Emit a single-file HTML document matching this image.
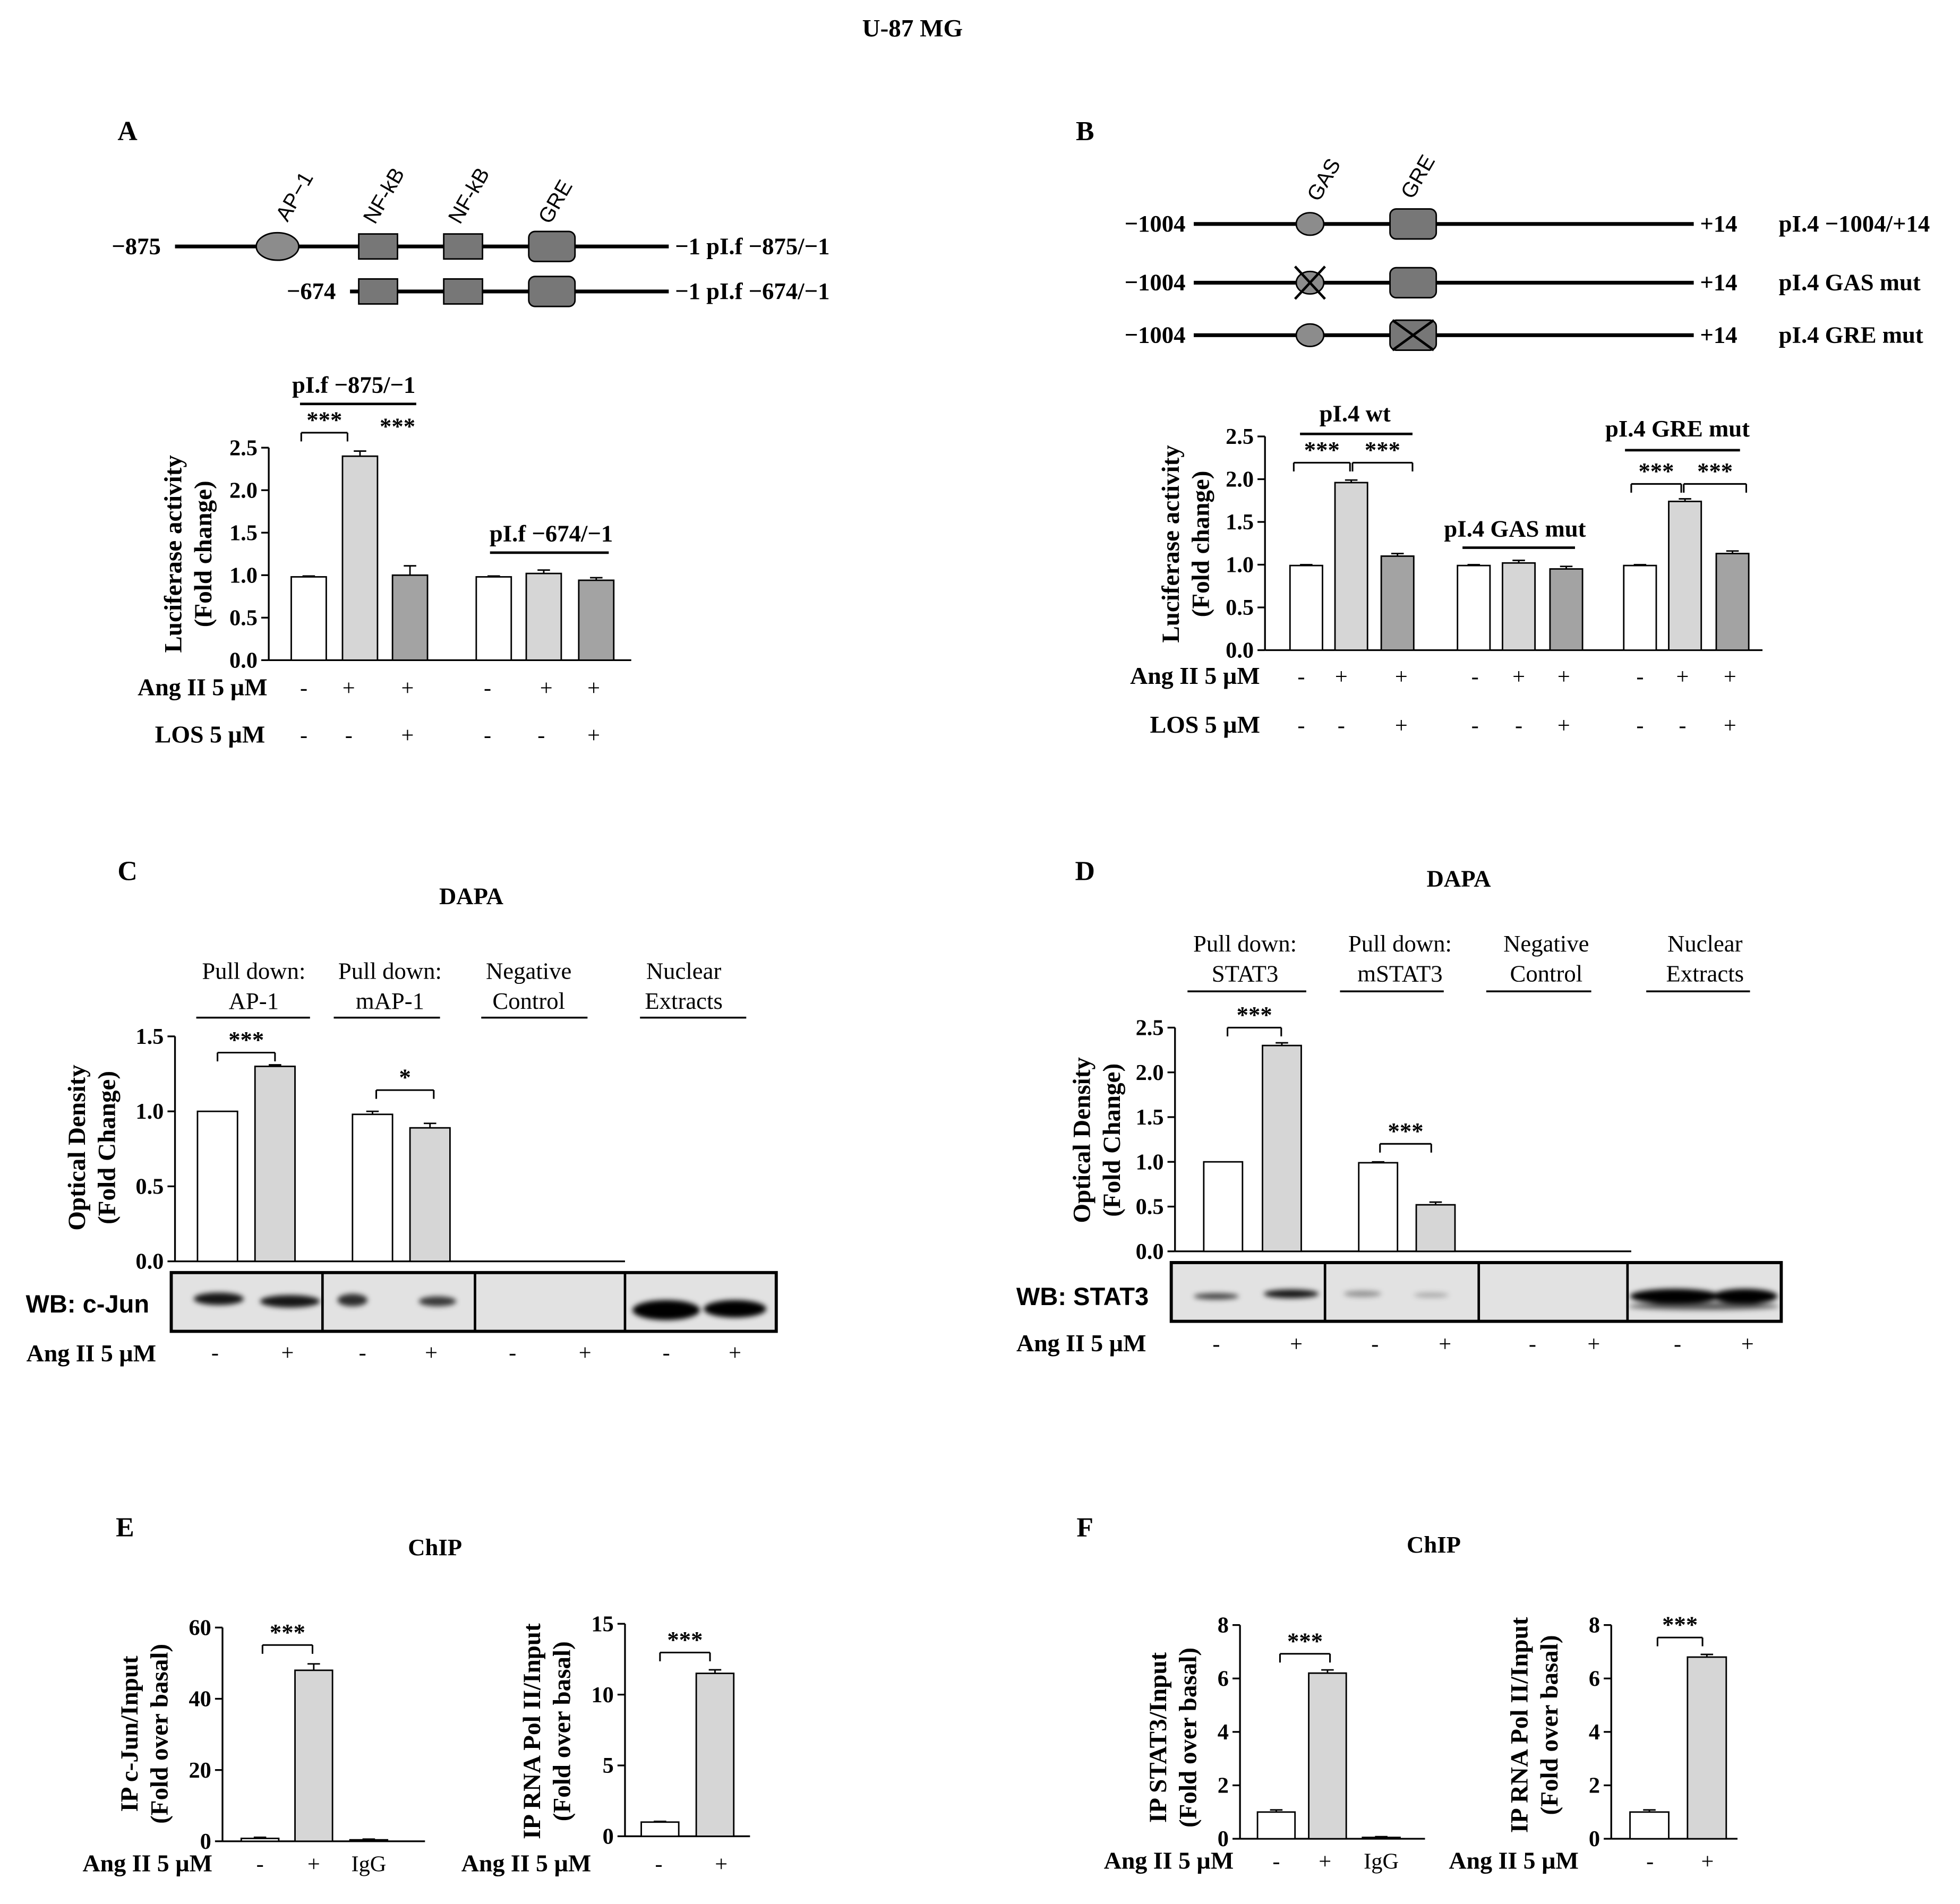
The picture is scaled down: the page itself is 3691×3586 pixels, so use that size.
<!DOCTYPE html>
<html><head><meta charset="utf-8"><style>
html,body{margin:0;padding:0;background:#fff}
svg{display:block}
text{font-family:"Liberation Serif",serif;fill:#000}
.b{font-weight:bold}
</style></head><body>
<svg id="fig" width="3691" height="3586" viewBox="0 0 1568 1523" xmlns="http://www.w3.org/2000/svg">
<defs><filter id="blur" x="-50%" y="-100%" width="200%" height="300%"><feGaussianBlur stdDeviation="2"/></filter></defs>
<text x="730" y="29" font-size="20" class="b" text-anchor="middle">U-87 MG</text>
<g id="diagrams"></g>
<g id="charts"></g>
</svg>
<script>
// ---- data ----
const aValues=[0.98,2.4,1.0,0.98,1.02,0.94];
const aErrors=[0.01,0.06,0.11,0.01,0.04,0.03];
const aTicks=["0.0","0.5","1.0","1.5","2.0","2.5"];
const bValues=[0.99,1.96,1.1,0.99,1.02,0.95,0.99,1.74,1.13];
const bErrors=[0.01,0.03,0.03,0.01,0.03,0.03,0.01,0.03,0.03];
const bTicks=["0.0","0.5","1.0","1.5","2.0","2.5"];
const cValues=[1.0,1.3,0.98,0.89];
const cErrors=[0,0.01,0.02,0.03];
const cTicks=["0.0","0.5","1.0","1.5"];
const dValues=[1.0,2.3,0.99,0.52];
const dErrors=[0,0.03,0.01,0.03];
const dTicks=["0.0","0.5","1.0","1.5","2.0","2.5"];
const e1Values=[0.8,48,0.4];
const e1Errors=[0.3,1.8,0.2];
const e1Ticks=["0","20","40","60"];
const e2Values=[1.0,11.5];
const e2Errors=[0.05,0.25];
const e2Ticks=["0","5","10","15"];
const f1Values=[1.0,6.2,0.05];
const f1Errors=[0.08,0.12,0.03];
const f1Ticks=["0","2","4","6","8"];
const f2Values=[1.0,6.8];
const f2Errors=[0.08,0.1];
const f2Ticks=["0","2","4","6","8"];

const NS="http://www.w3.org/2000/svg";
const charts=document.getElementById('charts');
const diag=document.getElementById('diagrams');
const RS=19.5;
function mk(tag,attrs,parent,txt){const e=document.createElementNS(NS,tag);for(const k in attrs)e.setAttribute(k,attrs[k]);if(txt!==undefined)e.textContent=txt;(parent||charts).appendChild(e);return e;}
function T(x,y,s,size,opts){opts=opts||{};const e=mk('text',{x:x,y:y,'font-size':size||18,'text-anchor':opts.a||'middle'},opts.p||charts,s);if(opts.b!==false)e.setAttribute('class','b');if(opts.sans)e.setAttribute('style','font-family:"Liberation Sans",sans-serif');if(opts.rot!==undefined)e.setAttribute('transform','rotate('+opts.rot+' '+x+' '+y+')');


return e;}
function L(x1,y1,x2,y2,w,p){const e=mk('line',{x1:x1,y1:y1,x2:x2,y2:y2,stroke:'#000','stroke-width':w||1.3},p||charts);


return e;}

function chart(cfg){
  const g=mk('g',{});
  
  
  const y0=cfg.y0, ppu=(cfg.y0-cfg.yTop)/cfg.max;
  const sy=v=>y0-v*ppu;
  L(cfg.ax,sy(cfg.max),cfg.ax,y0,1.4,g);
  L(cfg.ax,y0,cfg.xEnd,y0,1.4,g);
  cfg.ticks.forEach((t,i)=>{const v=cfg.max*i/(cfg.ticks.length-1);const y=sy(v);L(cfg.ax-6,y,cfg.ax,y,1.4,g);T(cfg.ax-9,y+6,t,18,{a:'end',p:g,n:'y-tick-label'});});
  cfg.values.forEach((v,i)=>{const x=cfg.bx[i];const r=mk('rect',{x:x,y:sy(v),width:cfg.bw,height:v*ppu,fill:cfg.colors[i],stroke:'#000','stroke-width':1.2},g);
    
    
    const e=cfg.errors[i];if(e>0){const cx=x+cfg.bw/2;L(cx,sy(v),cx,sy(v+e),1.2,g);L(cx-5,sy(v+e),cx+5,sy(v+e),1.2,g);}
  });
  if(cfg.ylab){T(cfg.ylx,cfg.yly,cfg.ylab[0],20,{rot:-90,p:g,n:'y-axis-title'});T(cfg.ylx+24,cfg.yly,cfg.ylab[1],20,{rot:-90,p:g,n:'y-axis-subtitle'});}
  return g;
}
function bracket(x1,x2,y,txt){L(x1,y,x2,y);L(x1,y,x1,y+7);L(x2,y,x2,y+7);T((x1+x2)/2,y-4,txt,19,{n:'significance-label'});}

const W='#ffffff',G='#d6d6d6',D='#a3a3a3';
// ---- Panel A ----
T(102,112,'A',22,{n:'panel-a-label'});
chart({name:'chart-a',ax:215,y0:528,yTop:358,max:2.5,xEnd:505,ticks:aTicks,values:aValues,errors:aErrors,bw:28,bx:[233,274,314,381,421,463],colors:[W,G,D,W,G,D],ylab:['Luciferase activity','(Fold change)'],ylx:145,yly:443});
T(283,314,'pI.f  −875/−1',19,{n:'group-label'});L(240,323,333,323,2);
bracket(241,278,346,'***');T(318,347,'***',19,{n:'significance-label'});
T(441,433,'pI.f −674/−1',19,{n:'group-label'});L(392,442,487,442,2);
T(162,556,'Ang II 5 µM',RS,{n:'ang-ii-row-label'});T(168,594,'LOS 5 µM',RS,{n:'los-row-label'});
['-','+','+','-','+','+'].forEach((s,i)=>T([243,279,326,390,437,475][i],556,s,18,{b:false,n:'ang-ii-sign'}));
['-','-','+','-','-','+'].forEach((s,i)=>T([243,279,326,390,433,475][i],594,s,18,{b:false,n:'los-sign'}));

// diagram A
L(140,197,535,197,3,diag);L(280,233,535,233,3,diag);
T(109,203,'−875',19,{p:diag,n:'position-label'});T(249,239,'−674',19,{p:diag,n:'position-label'});
mk('ellipse',{cx:222,cy:197,rx:17,ry:11,fill:'#8c8c8c',stroke:'#000','stroke-width':1.2},diag);
[[287,197],[355,197],[287,233],[355,233]].forEach(p=>mk('rect',{x:p[0],y:p[1]-10,width:31,height:20,fill:'#777',stroke:'#000','stroke-width':1.2},diag));
[197,233].forEach(y=>mk('rect',{x:423,y:y-12,width:37,height:24,rx:5,fill:'#777',stroke:'#000','stroke-width':1.2},diag));
T(230,178,'AP−1',17,{p:diag,a:'start',b:false,sans:true,rot:-60,n:'site-label'});
T(300,180,'NF-kB',17,{p:diag,a:'start',b:false,sans:true,rot:-60,n:'site-label'});
T(368,180,'NF-kB',17,{p:diag,a:'start',b:false,sans:true,rot:-60,n:'site-label'});
T(440,180,'GRE',17,{p:diag,a:'start',b:false,sans:true,rot:-60,n:'site-label'});
T(540,203,'−1  pI.f  −875/−1',19,{p:diag,a:'start',n:'construct-label'});
T(540,239,'−1  pI.f  −674/−1',19,{p:diag,a:'start',n:'construct-label'});

// ---- Panel B ----
T(868,112,'B',22,{n:'panel-b-label'});
chart({name:'chart-b',ax:1012,y0:520,yTop:349,max:2.5,xEnd:1410,ticks:bTicks,values:bValues,errors:bErrors,bw:26,bx:[1032,1068,1105,1166,1202,1240,1299,1335,1373],colors:[W,G,D,W,G,D,W,G,D],ylab:['Luciferase activity','(Fold change)'],ylx:943,yly:435});
T(1084,337,'pI.4 wt',19,{n:'group-label'});L(1040,347,1130,347,2);
T(1212,429,'pI.4 GAS mut',19,{n:'group-label'});L(1170,438,1260,438,2);
T(1342,349,'pI.4 GRE mut',19,{n:'group-label'});L(1300,360,1392,360,2);
bracket(1035,1080,370,'***');bracket(1082,1130,370,'***');
bracket(1305,1345,387,'***');bracket(1347,1397,387,'***');
T(956,547,'Ang II 5 µM',RS,{n:'ang-ii-row-label'});T(964,586,'LOS 5 µM',RS,{n:'los-row-label'});
const bx=[1041,1073,1121,1180,1215,1251,1312,1346,1384];
['-','+','+','-','+','+','-','+','+'].forEach((s,i)=>T(bx[i],547,s,18,{b:false,n:'ang-ii-sign'}));
['-','-','+','-','-','+','-','-','+'].forEach((s,i)=>T(bx[i],586,s,18,{b:false,n:'los-sign'}));
[179,226,268].forEach((y,r)=>{L(955,y,1355,y,3,diag);T(924,y+6,'−1004',19,{p:diag,n:'position-label'});T(1360,y+6,'+14',19,{p:diag,a:'start',n:'position-label'});
 mk('ellipse',{cx:1048,cy:y,rx:11,ry:9,fill:'#8c8c8c',stroke:'#000','stroke-width':1.2},diag);
 mk('rect',{x:1112,y:y-12,width:37,height:24,rx:5,fill:'#777',stroke:'#000','stroke-width':1.2},diag);
 if(r==1){L(1036,y-13,1060,y+13,2,diag);L(1060,y-13,1036,y+13,2,diag);}
 if(r==2){L(1114,y-12,1147,y+12,2,diag);L(1147,y-12,1114,y+12,2,diag);}
});
T(1055,162,'GAS',17,{p:diag,a:'start',b:false,sans:true,rot:-60,n:'site-label'});
T(1130,160,'GRE',17,{p:diag,a:'start',b:false,sans:true,rot:-60,n:'site-label'});
T(1423,185,'pI.4 −1004/+14',19,{p:diag,a:'start',n:'construct-label'});
T(1423,232,'pI.4 GAS mut',19,{p:diag,a:'start',n:'construct-label'});
T(1423,274,'pI.4 GRE mut',19,{p:diag,a:'start',n:'construct-label'});

// ---- Panel C ----
T(102,704,'C',22,{n:'panel-c-label'});T(377,723,'DAPA',19,{n:'panel-title'});
[[203,'Pull down:','AP-1',157,248],[312,'Pull down:','mAP-1',267,352],[423,'Negative','Control',385,470],[547,'Nuclear','Extracts',512,597]].forEach(h=>{T(h[0],783,h[1],19,{b:false,n:'lane-header'});T(h[0],807,h[2],19,{b:false,n:'lane-header'});L(h[3],814,h[4],814,1.5);});
chart({name:'chart-c',ax:140,y0:1009,yTop:829,max:1.5,xEnd:500,ticks:cTicks,values:cValues,errors:cErrors,bw:32,bx:[158,204,282,328],colors:[W,G,W,G],ylab:['Optical Density','(Fold Change)'],ylx:68,yly:918});
bracket(174,220,842,'***');bracket(301,347,872,'*');
function blot(x1,x2,y1,y2,divs,bands,name){
  const g=mk('g',{});
  
  
  mk('rect',{x:x1,y:y1,width:x2-x1,height:y2-y1,fill:'#e2e2e2'},g);
  const bg=mk('g',{filter:'url(#blur)'},g);
  bands.forEach(b=>{const e=mk('ellipse',{cx:b[0],cy:b[1],rx:b[2],ry:b[3],fill:'#000','fill-opacity':b[4]},bg);});
  mk('rect',{x:x1,y:y1,width:x2-x1,height:y2-y1,fill:'none',stroke:'#000','stroke-width':2.5},g);
  divs.forEach(d=>L(d,y1,d,y2,2,g));
}
blot(137,621,1018,1065,[258,380,500],[[175,1039,20,5,0.9],[232,1041,24,5,0.9],[282,1040,12,5,0.8],[350,1041,15,4,0.75],[533,1048,27,8,1],[588,1047,25,7,1]],'western-blot-c-jun');
T(70,1050,'WB: c-Jun',20,{sans:true,n:'blot-label'});
T(73,1089,'Ang II 5 µM',RS,{n:'ang-ii-row-label'});
['-','+','-','+','-','+','-','+'].forEach((s,i)=>T([172,230,290,345,410,468,533,588][i],1088,s,18,{b:false,n:'ang-ii-sign'}));

// ---- Panel D ----
T(868,704,'D',22,{n:'panel-d-label'});T(1167,709,'DAPA',19,{n:'panel-title'});
[[996,'Pull down:','STAT3',950,1045],[1120,'Pull down:','mSTAT3',1072,1155],[1237,'Negative','Control',1189,1273],[1364,'Nuclear','Extracts',1317,1400]].forEach(h=>{T(h[0],761,h[1],19,{b:false,n:'lane-header'});T(h[0],785,h[2],19,{b:false,n:'lane-header'});L(h[3],793,h[4],793,1.5);});
chart({name:'chart-d',ax:940,y0:1001,yTop:822,max:2.5,xEnd:1305,ticks:dTicks,values:dValues,errors:dErrors,bw:31,bx:[963,1010,1087,1133],colors:[W,G,W,G],ylab:['Optical Density','(Fold Change)'],ylx:872,yly:912});
bracket(982,1025,822,'***');bracket(1104,1145,915,'***');
blot(937,1425,1010,1057,[1060,1183,1302],[[973,1037,18,2.5,0.7],[1033,1035,22,3.5,0.9],[1090,1035,15,2.5,0.35],[1145,1036,14,2,0.25],[1340,1037,36,6,1],[1396,1037,26,6,1],[1363,1045,60,3,0.6]],'western-blot-stat3');
T(866,1044,'WB: STAT3',20,{sans:true,n:'blot-label'});
T(865,1081,'Ang II 5 µM',RS,{n:'ang-ii-row-label'});
['-','+','-','+','-','+','-','+'].forEach((s,i)=>T([973,1037,1100,1156,1226,1275,1342,1398][i],1081,s,18,{b:false,n:'ang-ii-sign'}));

// ---- Panel E ----
T(100,1229,'E',22,{n:'panel-e-label'});T(348,1244,'ChIP',19,{n:'panel-title'});
chart({name:'chart-e-cjun',ax:178,y0:1473,yTop:1302,max:60,xEnd:340,ticks:e1Ticks,values:e1Values,errors:e1Errors,bw:30,bx:[193,236,280],colors:[W,G,W],ylab:['IP c-Jun/Input','(Fold over basal)'],ylx:110,yly:1387});
bracket(210,250,1316,'***');
T(118,1497,'Ang II 5 µM',RS,{n:'ang-ii-row-label'});T(208,1497,'-',18,{b:false,n:'sign'});T(251,1497,'+',18,{b:false,n:'sign'});T(295,1497,'IgG',18,{b:false,n:'igg-label'});
chart({name:'chart-e-pol2',ax:500,y0:1469,yTop:1299,max:15,xEnd:600,ticks:e2Ticks,values:e2Values,errors:e2Errors,bw:30,bx:[513,557],colors:[W,G],ylab:['IP RNA Pol II/Input','(Fold over basal)'],ylx:432,yly:1385});
bracket(528,568,1322,'***');
T(421,1497,'Ang II 5 µM',RS,{n:'ang-ii-row-label'});T(527,1497,'-',18,{b:false,n:'sign'});T(577,1497,'+',18,{b:false,n:'sign'});

// ---- Panel F ----
T(868,1229,'F',22,{n:'panel-f-label'});T(1147,1242,'ChIP',19,{n:'panel-title'});
chart({name:'chart-f-stat3',ax:992,y0:1471,yTop:1300,max:8,xEnd:1140,ticks:f1Ticks,values:f1Values,errors:f1Errors,bw:30,bx:[1006,1047,1090],colors:[W,G,W],ylab:['IP STAT3/Input','(Fold over basal)'],ylx:933,yly:1390});
bracket(1024,1064,1323,'***');
T(935,1495,'Ang II 5 µM',RS,{n:'ang-ii-row-label'});T(1021,1495,'-',18,{b:false,n:'sign'});T(1060,1495,'+',18,{b:false,n:'sign'});T(1105,1495,'IgG',18,{b:false,n:'igg-label'});
chart({name:'chart-f-pol2',ax:1289,y0:1471,yTop:1300,max:8,xEnd:1390,ticks:f2Ticks,values:f2Values,errors:f2Errors,bw:31,bx:[1304,1350],colors:[W,G],ylab:['IP RNA Pol II/Input','(Fold over basal)'],ylx:1222,yly:1380});
bracket(1326,1362,1310,'***');
T(1211,1495,'Ang II 5 µM',RS,{n:'ang-ii-row-label'});T(1320,1495,'-',18,{b:false,n:'sign'});T(1366,1495,'+',18,{b:false,n:'sign'});
</script>
</body></html>
